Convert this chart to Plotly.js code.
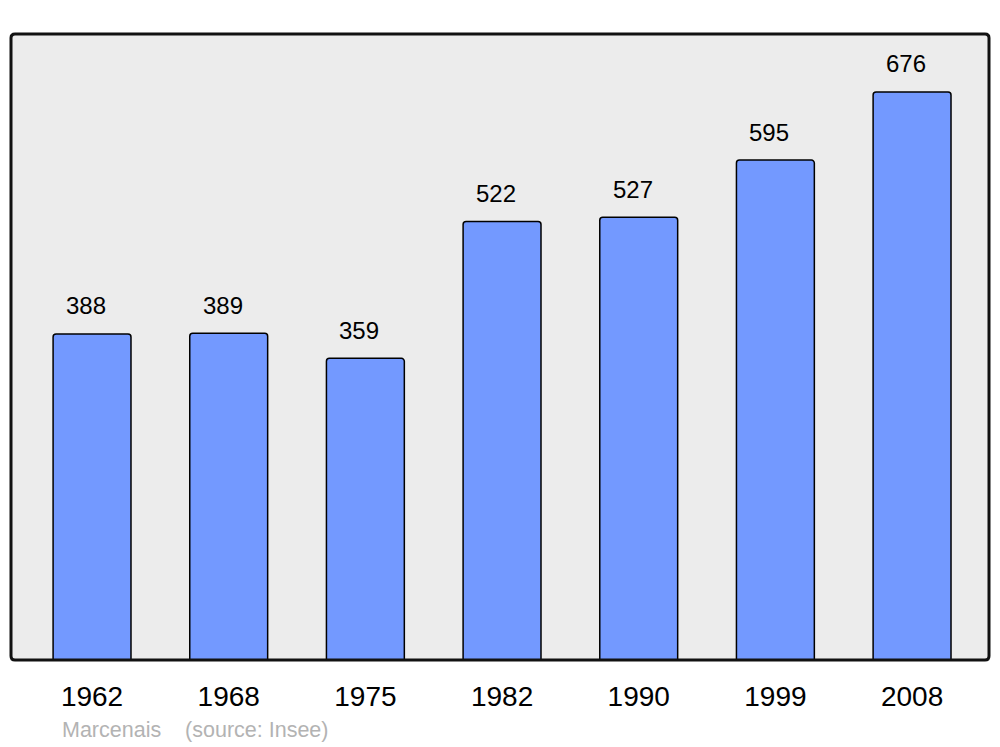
<!DOCTYPE html>
<html>
<head>
<meta charset="utf-8">
<script src="https://cdn.plot.ly/plotly-3.0.1.min.js"></script>
<style>html,body{margin:0;padding:0;background:#fff;}#chart{width:1000px;height:747px;}</style>
</head>
<body>
<div id="chart"></div>
<script>
const years = ["1962", "1968", "1975", "1982", "1990", "1999", "2008"];
const population = [388, 389, 359, 522, 527, 595, 676];
const commune = "Marcenais";
const sourceNote = "(source: Insee)";

const trace = {
  type: "bar",
  x: years,
  y: population,
  marker: {color: "#7399FF", line: {color: "#000000", width: 1.5}, cornerradius: 3},
  hoverinfo: "x+y"
};

const annotations = years.map((yr, i) => ({
  x: i, y: population[i], xref: "x", yref: "y",
  text: String(population[i]), showarrow: false,
  yanchor: "middle", yshift: 28, xshift: -6,
  font: {family: "Liberation Sans, Arial, sans-serif", size: 24, color: "#000"}
}));
annotations.push({
  xref: "paper", yref: "paper", x: 49/978, y: -70/626,
  xanchor: "left", yanchor: "middle", showarrow: false,
  text: commune + "&nbsp;&nbsp;&nbsp;&nbsp;" + sourceNote,
  font: {family: "Liberation Sans, Arial, sans-serif", size: 21.5, color: "#b3b3b3"}
});

const layout = {
  width: 1000, height: 747,
  margin: {l: 11, r: 11, t: 34, b: 87, pad: 0},
  paper_bgcolor: "#ffffff",
  plot_bgcolor: "#ececec",
  bargap: 0.43,
  showlegend: false,
  xaxis: {
    type: "category",
    range: [-0.593, 6.563],
    showgrid: false, zeroline: false, showline: false,
    ticks: "outside", ticklen: 11, tickcolor: "rgba(0,0,0,0)",
    tickfont: {family: "Liberation Sans, Arial, sans-serif", size: 28, color: "#000"}
  },
  yaxis: {
    range: [0, 745],
    showgrid: false, zeroline: false, showline: false,
    showticklabels: false, ticks: ""
  },
  annotations: annotations,
  shapes: [{
    type: "path", xref: "paper", yref: "paper", layer: "above",
    path: "",
    line: {color: "#111", width: 3}
  }]
};
(function(){
  const r = 4/978, rv = 4/626;
  layout.shapes[0].path =
    `M ${r},0 L ${1-r},0 Q 1,0 1,${rv} L 1,${1-rv} Q 1,1 ${1-r},1 L ${r},1 Q 0,1 0,${1-rv} L 0,${rv} Q 0,0 ${r},0 Z`;
})();

Plotly.newPlot("chart", [trace], layout, {displayModeBar: false, staticPlot: true});
</script>
</body>
</html>
